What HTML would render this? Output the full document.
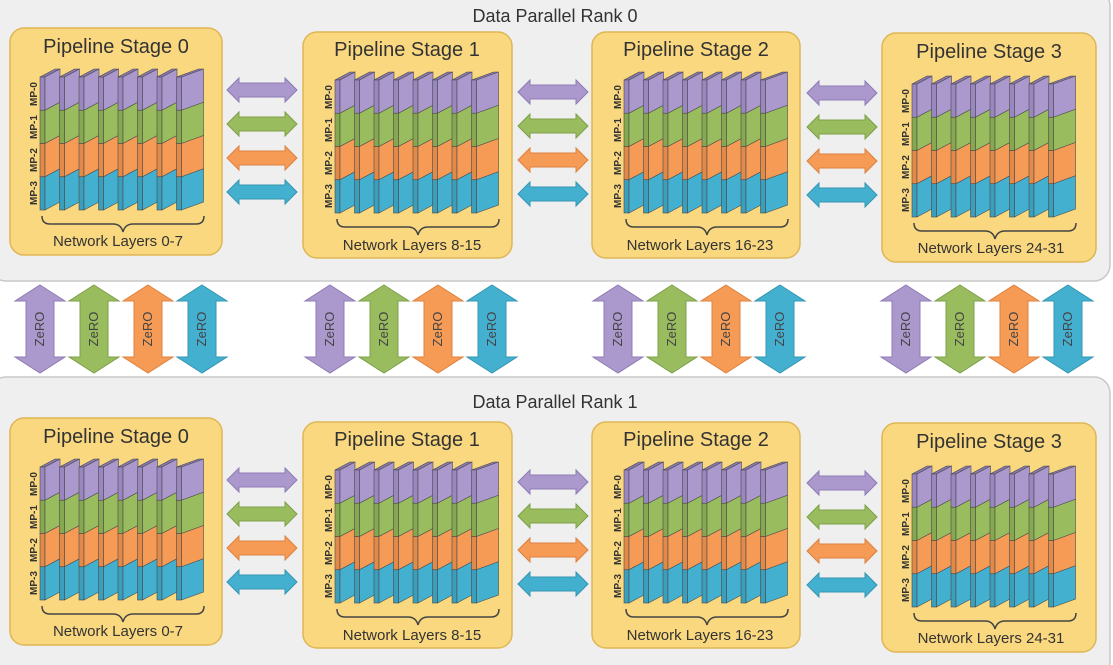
<!DOCTYPE html>
<html><head><meta charset="utf-8"><style>
html,body{margin:0;padding:0;background:#fff;}
svg{display:block;font-family:"Liberation Sans",sans-serif;}
</style></head><body>
<svg width="1113" height="665" viewBox="0 0 1113 665" xmlns="http://www.w3.org/2000/svg">
<defs>
<g id="slab" stroke="#4a4a4a" stroke-width="0.6">
 <polygon points="0,-133 5,-133 20,-141 15,-141" fill="#8a78b0"/>
 <rect x="0" y="-133" width="5" height="33.25" fill="#9a86c0"/>
 <polygon points="5,-133 20,-141 20,-107.75 5,-99.75" fill="#ab98cc"/>
 <rect x="0" y="-99.75" width="5" height="33.25" fill="#86a84f"/>
 <polygon points="5,-99.75 20,-107.75 20,-74.5 5,-66.5" fill="#98bc5e"/>
 <rect x="0" y="-66.5" width="5" height="33.25" fill="#e38a48"/>
 <polygon points="5,-66.5 20,-74.5 20,-41.25 5,-33.25" fill="#f69b56"/>
 <rect x="0" y="-33.25" width="5" height="33.25" fill="#3a9fbd"/>
 <polygon points="5,-33.25 20,-41.25 20,-8 5,0" fill="#44b0d0"/>
</g>
<g id="slabL" stroke="#4a4a4a" stroke-width="0.6">
 <polygon points="0,-133 5,-133 27,-141 22,-141" fill="#8a78b0"/>
 <rect x="0" y="-133" width="5" height="33.25" fill="#9a86c0"/>
 <polygon points="5,-133 27,-141 27,-107.75 5,-99.75" fill="#ab98cc"/>
 <rect x="0" y="-99.75" width="5" height="33.25" fill="#86a84f"/>
 <polygon points="5,-99.75 27,-107.75 27,-74.5 5,-66.5" fill="#98bc5e"/>
 <rect x="0" y="-66.5" width="5" height="33.25" fill="#e38a48"/>
 <polygon points="5,-66.5 27,-74.5 27,-41.25 5,-33.25" fill="#f69b56"/>
 <rect x="0" y="-33.25" width="5" height="33.25" fill="#3a9fbd"/>
 <polygon points="5,-33.25 27,-41.25 27,-8 5,0" fill="#44b0d0"/>
</g>
<g id="stack">
 <use href="#slab" x="0"/><use href="#slab" x="19.5"/><use href="#slab" x="39"/><use href="#slab" x="58.5"/>
 <use href="#slab" x="78"/><use href="#slab" x="97.5"/><use href="#slab" x="117"/><use href="#slabL" x="136.5"/>
 <path d="M2,6 q0,8 8,8 h63 q8,0 10,8 q2,-8 10,-8 h63 q8,0 8,-8" fill="none" stroke="#444" stroke-width="1.5"/>
 <g font-size="10" font-weight="bold" fill="#333" text-anchor="middle">
  <text transform="translate(-3,-116) rotate(-90)">MP-0</text>
  <text transform="translate(-3,-83) rotate(-90)">MP-1</text>
  <text transform="translate(-3,-50) rotate(-90)">MP-2</text>
  <text transform="translate(-3,-17) rotate(-90)">MP-3</text>
 </g>
</g>
<polygon id="ha" points="0,0 12,-12 12,-7 58,-7 58,-12 70,0 58,12 58,7 12,7 12,12"/>
<g id="harrows">
 <use href="#ha" y="0" fill="#ab98cc" stroke="#8e7cb4"/>
 <use href="#ha" y="34" fill="#98bc5e" stroke="#7ea04a"/>
 <use href="#ha" y="68" fill="#f69b56" stroke="#dd8240"/>
 <use href="#ha" y="102" fill="#44b0d0" stroke="#3596b2"/>
</g>
<polygon id="va" points="0,0 25,16 14,16 14,72 25,72 0,88 -25,72 -14,72 -14,16 -25,16"/>
</defs>

<rect x="-10" y="-10" width="1120" height="291" rx="16" fill="#efefef" stroke="#c8c8c8" stroke-width="1.5"/>
<rect x="-10" y="377" width="1120" height="300" rx="16" fill="#efefef" stroke="#c8c8c8" stroke-width="1.5"/>
<text x="555" y="22" font-size="18" fill="#333" text-anchor="middle">Data Parallel Rank 0</text>
<text x="555" y="408" font-size="18" fill="#333" text-anchor="middle">Data Parallel Rank 1</text>

<g id="rank">
 <g fill="#fad87f" stroke="#dfb655" stroke-width="1.5">
  <rect x="10" y="28" width="212" height="227" rx="14"/>
  <rect x="303" y="32" width="209" height="226" rx="14"/>
  <rect x="592" y="32" width="208" height="226" rx="14"/>
  <rect x="882" y="33" width="214" height="229" rx="14"/>
 </g>
 <g font-size="20" fill="#333" text-anchor="middle">
  <text x="116" y="53">Pipeline Stage 0</text>
  <text x="407" y="56">Pipeline Stage 1</text>
  <text x="696" y="56">Pipeline Stage 2</text>
  <text x="989" y="58">Pipeline Stage 3</text>
 </g>
 <g font-size="15" fill="#333" text-anchor="middle">
  <text x="118" y="246">Network Layers 0-7</text>
  <text x="412" y="250">Network Layers 8-15</text>
  <text x="700" y="250">Network Layers 16-23</text>
  <text x="991" y="253">Network Layers 24-31</text>
 </g>
 <use href="#stack" x="40" y="210"/>
 <use href="#stack" x="335" y="213"/>
 <use href="#stack" x="624" y="213"/>
 <use href="#stack" x="912" y="217"/>
 <use href="#harrows" x="227" y="90"/>
 <use href="#harrows" x="518" y="92"/>
 <use href="#harrows" x="807" y="93"/>
</g>
<use href="#rank" y="390"/>

<g id="zgroup">
 <use href="#va" x="40" y="285" fill="#ab98cc" stroke="#8e7cb4"/>
 <use href="#va" x="94" y="285" fill="#98bc5e" stroke="#7ea04a"/>
 <use href="#va" x="148" y="285" fill="#f69b56" stroke="#dd8240"/>
 <use href="#va" x="202" y="285" fill="#44b0d0" stroke="#3596b2"/>
 <g font-size="13" fill="#444" text-anchor="middle">
  <text transform="translate(44,329) rotate(-90)">ZeRO</text>
  <text transform="translate(98,329) rotate(-90)">ZeRO</text>
  <text transform="translate(152,329) rotate(-90)">ZeRO</text>
  <text transform="translate(206,329) rotate(-90)">ZeRO</text>
 </g>
</g>
<use href="#zgroup" x="290"/>
<use href="#zgroup" x="578"/>
<use href="#zgroup" x="866"/>
</svg>
</body></html>
